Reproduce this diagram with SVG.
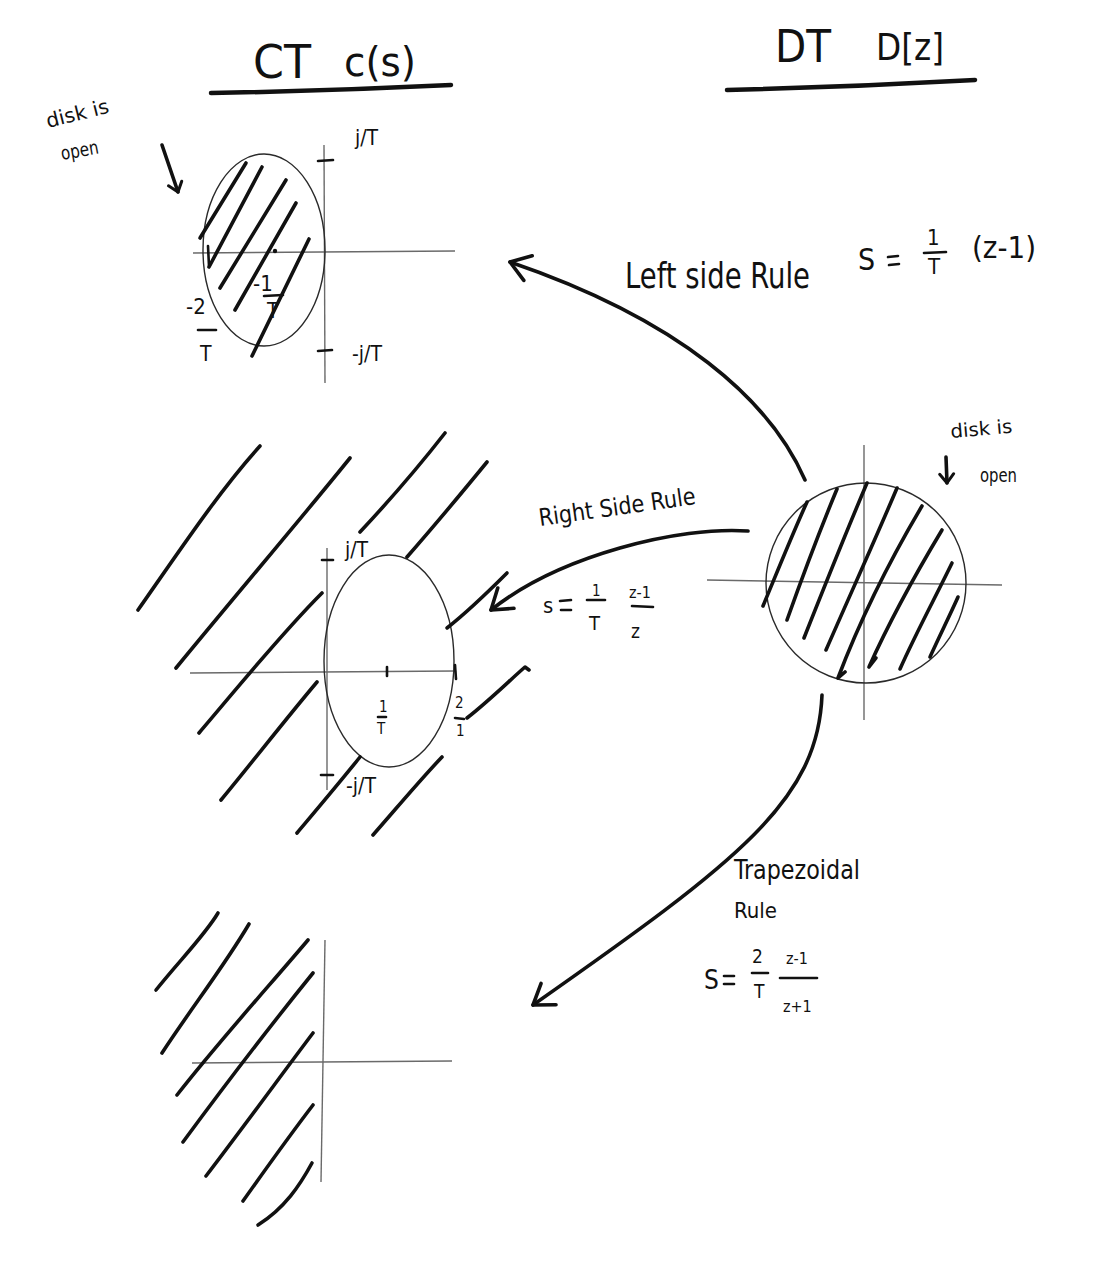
<svg xmlns="http://www.w3.org/2000/svg" width="1118" height="1268" viewBox="0 0 1118 1268">
<style>
.bg{fill:#fff}
.hand{fill:none;stroke:#111;stroke-width:3.6;stroke-linecap:round;stroke-linejoin:round}
.ul{fill:none;stroke:#111;stroke-width:4.5;stroke-linecap:round}
.thin{fill:none;stroke:#2a2a2a;stroke-width:1.4}
.axis{fill:none;stroke:#6a6a6a;stroke-width:1.4}
.tick{fill:none;stroke:#111;stroke-width:2.6;stroke-linecap:round}
.bar{fill:none;stroke:#111;stroke-width:2.6;stroke-linecap:round}
.t{font-family:"Liberation Sans Narrow","DejaVu Sans Condensed","Liberation Sans",sans-serif;fill:#111}
.arrow{fill:none;stroke:#111;stroke-width:3.6;stroke-linecap:round}
</style>
<defs>
<marker id="ah" markerUnits="userSpaceOnUse" markerWidth="44" markerHeight="44" viewBox="-30 -22 44 44" refX="0" refY="0" orient="auto">
<path d="M-19,-13 L0,0 L-19,13" fill="none" stroke="#111" stroke-width="3.6" stroke-linecap="round" stroke-linejoin="round"/>
</marker>
<marker id="ahs" markerUnits="userSpaceOnUse" markerWidth="30" markerHeight="30" viewBox="-20 -15 30 30" refX="0" refY="0" orient="auto">
<path d="M-9,-7 L0,0 L-9,7" fill="none" stroke="#111" stroke-width="3" stroke-linecap="round" stroke-linejoin="round"/>
</marker>
</defs>
<rect class="bg" x="0" y="0" width="1118" height="1268"/>

<g id="title-ct">
<text class="t" x="253" y="78" font-size="46" textLength="58" lengthAdjust="spacingAndGlyphs">CT</text>
<text class="t" x="344" y="76" font-size="40" textLength="72" lengthAdjust="spacingAndGlyphs">c(s)</text>
<path class="ul" d="M211,93 Q330,91 451,85"/>
</g>

<g id="title-dt">
<text class="t" x="775" y="62" font-size="44" textLength="56" lengthAdjust="spacingAndGlyphs">DT</text>
<text class="t" x="876" y="60" font-size="38" textLength="68" lengthAdjust="spacingAndGlyphs">D[z]</text>
<path class="ul" d="M727,90 Q850,87 975,80"/>
</g>

<g id="note-ct-open">
<text class="t" x="48" y="128" font-size="20" textLength="64" lengthAdjust="spacingAndGlyphs" transform="rotate(-14 48 128)">disk is</text>
<text class="t" x="62" y="160" font-size="19" textLength="38" lengthAdjust="spacingAndGlyphs" transform="rotate(-10 62 160)">open</text>
<path class="arrow" d="M162,145 L178,192" marker-end="url(#ahs)"/>
</g>

<g id="ct-left-rule-plane">
<line class="axis" x1="193" y1="253" x2="455" y2="251"/>
<line class="axis" x1="324" y1="145" x2="325" y2="383"/>
<line class="tick" x1="318" y1="161" x2="333" y2="160"/>
<line class="tick" x1="318" y1="351" x2="332" y2="350"/>
<ellipse class="thin" cx="264" cy="250" rx="61" ry="96"/>
<line class="tick" x1="208" y1="246" x2="209" y2="266"/>
<circle cx="275" cy="251" r="2.2" fill="#111"/>
<path class="hand" d="M200,238 L246,163"/>
<path class="hand" d="M209,267 L262,167"/>
<path class="hand" d="M220,288 L286,180"/>
<path class="hand" d="M235,310 L296,203"/>
<path class="hand" d="M252,356 L309,239"/>
<text class="t" x="355" y="145" font-size="21">j/T</text>
<text class="t" x="352" y="361" font-size="21">-j/T</text>
<text class="t" x="253" y="291" font-size="22">-1</text>
<line class="bar" x1="264" y1="296" x2="283" y2="295"/>
<text class="t" x="267" y="318" font-size="21">T</text>
<text class="t" x="186" y="314" font-size="22">-2</text>
<line class="bar" x1="198" y1="330" x2="216" y2="330"/>
<text class="t" x="200" y="361" font-size="21">T</text>
</g>

<g id="ct-right-rule-plane">
<line class="axis" x1="190" y1="673" x2="455" y2="671"/>
<line class="axis" x1="327" y1="548" x2="327" y2="790"/>
<line class="tick" x1="322" y1="560" x2="333" y2="560"/>
<line class="tick" x1="321" y1="775" x2="333" y2="775"/>
<ellipse class="thin" cx="389" cy="661" rx="65" ry="106"/>
<line class="tick" x1="387" y1="667" x2="387" y2="676"/>
<line class="tick" x1="455" y1="665" x2="456" y2="679"/>
<path class="hand" d="M138,610 C180,550 220,490 260,446"/>
<path class="hand" d="M176,668 C240,590 300,520 350,458"/>
<path class="hand" d="M199,733 C240,685 280,635 322,593"/>
<path class="hand" d="M221,800 C250,765 285,720 317,682"/>
<path class="hand" d="M360,532 C390,500 420,465 445,433"/>
<path class="hand" d="M407,557 C435,525 460,495 487,462"/>
<path class="hand" d="M447,628 C470,610 490,590 507,573"/>
<path class="hand" d="M467,718 C490,700 510,680 525,667 L529,670"/>
<path class="hand" d="M297,833 C318,808 340,782 360,757"/>
<path class="hand" d="M373,835 C395,810 420,780 442,757"/>
<text class="t" x="345" y="557" font-size="21">j/T</text>
<text class="t" x="346" y="793" font-size="21">-j/T</text>
<text class="t" x="379" y="712" font-size="15">1</text>
<line class="bar" x1="378" y1="717" x2="386" y2="717"/>
<text class="t" x="377" y="734" font-size="15">T</text>
<text class="t" x="455" y="708" font-size="15">2</text>
<line class="bar" x1="455" y1="718" x2="464" y2="719"/>
<text class="t" x="456" y="736" font-size="15">1</text>
</g>

<g id="ct-trapezoidal-plane">
<line class="axis" x1="192" y1="1063" x2="452" y2="1061"/>
<line class="axis" x1="325" y1="940" x2="321" y2="1182"/>
<path class="hand" d="M156,990 C180,960 205,935 218,913"/>
<path class="hand" d="M162,1053 C190,1010 225,965 249,924"/>
<path class="hand" d="M177,1095 C220,1040 270,985 308,940"/>
<path class="hand" d="M183,1142 C225,1085 275,1020 313,973"/>
<path class="hand" d="M206,1176 C245,1125 285,1070 313,1033"/>
<path class="hand" d="M243,1201 C265,1170 290,1135 313,1105"/>
<path class="hand" d="M258,1225 C285,1208 300,1185 312,1163"/>
</g>

<g id="dt-unit-disk">
<line class="axis" x1="707" y1="580" x2="1002" y2="585"/>
<line class="axis" x1="864" y1="445" x2="864" y2="720"/>
<circle class="thin" cx="866" cy="583" r="100"/>
<path class="hand" d="M763,606 C778,570 792,535 807,502"/>
<path class="hand" d="M787,620 C803,575 820,530 837,489"/>
<path class="hand" d="M804,638 C825,585 847,530 867,483"/>
<path class="hand" d="M826,650 C850,595 875,540 897,488"/>
<path class="hand" d="M838,678 C860,620 890,560 922,506 M838,678 L845,672"/>
<path class="hand" d="M869,667 C890,620 915,575 942,530 M869,667 L876,658"/>
<path class="hand" d="M900,669 C915,635 935,598 952,563"/>
<path class="hand" d="M930,657 C940,635 950,615 958,597"/>
</g>

<g id="note-dt-open">
<text class="t" x="951" y="438" font-size="19" textLength="62" lengthAdjust="spacingAndGlyphs" transform="rotate(-5 951 438)">disk is</text>
<text class="t" x="980" y="482" font-size="19" textLength="37" lengthAdjust="spacingAndGlyphs">open</text>
<path class="arrow" d="M946,457 L947,483" marker-end="url(#ahs)"/>
</g>

<g id="connectors">
<path id="edge-left-rule" class="arrow" d="M805,480 C770,400 680,320 510,262" marker-end="url(#ah)"/>
<path id="edge-right-rule" class="arrow" d="M748,531 C680,526 560,555 491,610" marker-end="url(#ah)"/>
<path id="edge-trapezoidal" class="arrow" d="M822,695 C818,800 740,860 533,1005" marker-end="url(#ah)"/>
</g>

<g id="label-left-rule">
<text class="t" x="625" y="288" font-size="35" textLength="185" lengthAdjust="spacingAndGlyphs">Left side Rule</text>
<text class="t" x="858" y="270" font-size="30">S</text>
<line class="bar" x1="888" y1="257" x2="898" y2="256"/>
<line class="bar" x1="889" y1="265" x2="899" y2="264"/>
<text class="t" x="927" y="245" font-size="22">1</text>
<line class="bar" x1="924" y1="253" x2="946" y2="252"/>
<text class="t" x="928" y="274" font-size="22">T</text>
<text class="t" x="972" y="258" font-size="30" textLength="64" lengthAdjust="spacingAndGlyphs">(z-1)</text>
</g>

<g id="label-right-rule">
<text class="t" x="540" y="526" font-size="24" textLength="158" lengthAdjust="spacingAndGlyphs" transform="rotate(-8 540 526)">Right Side Rule</text>
<text class="t" x="543" y="613" font-size="22">s</text>
<line class="bar" x1="560" y1="601" x2="571" y2="600"/>
<line class="bar" x1="561" y1="610" x2="571" y2="610"/>
<text class="t" x="592" y="596" font-size="15">1</text>
<line class="bar" x1="587" y1="600" x2="605" y2="600"/>
<text class="t" x="589" y="630" font-size="20">T</text>
<text class="t" x="629" y="598" font-size="16">z-1</text>
<line class="bar" x1="632" y1="606" x2="653" y2="607"/>
<text class="t" x="631" y="638" font-size="19">z</text>
</g>

<g id="label-trapezoidal">
<text class="t" x="734" y="879" font-size="26" textLength="126" lengthAdjust="spacingAndGlyphs">Trapezoidal</text>
<text class="t" x="734" y="918" font-size="22" textLength="43" lengthAdjust="spacingAndGlyphs">Rule</text>
<text class="t" x="704" y="989" font-size="26">S</text>
<line class="bar" x1="724" y1="976" x2="734" y2="976"/>
<line class="bar" x1="724" y1="984" x2="734" y2="984"/>
<text class="t" x="752" y="963" font-size="19">2</text>
<line class="bar" x1="752" y1="973" x2="768" y2="973"/>
<text class="t" x="754" y="998" font-size="19">T</text>
<text class="t" x="786" y="964" font-size="16">z-1</text>
<line class="bar" x1="780" y1="978" x2="817" y2="978"/>
<text class="t" x="783" y="1012" font-size="16">z+1</text>
</g>
</svg>
